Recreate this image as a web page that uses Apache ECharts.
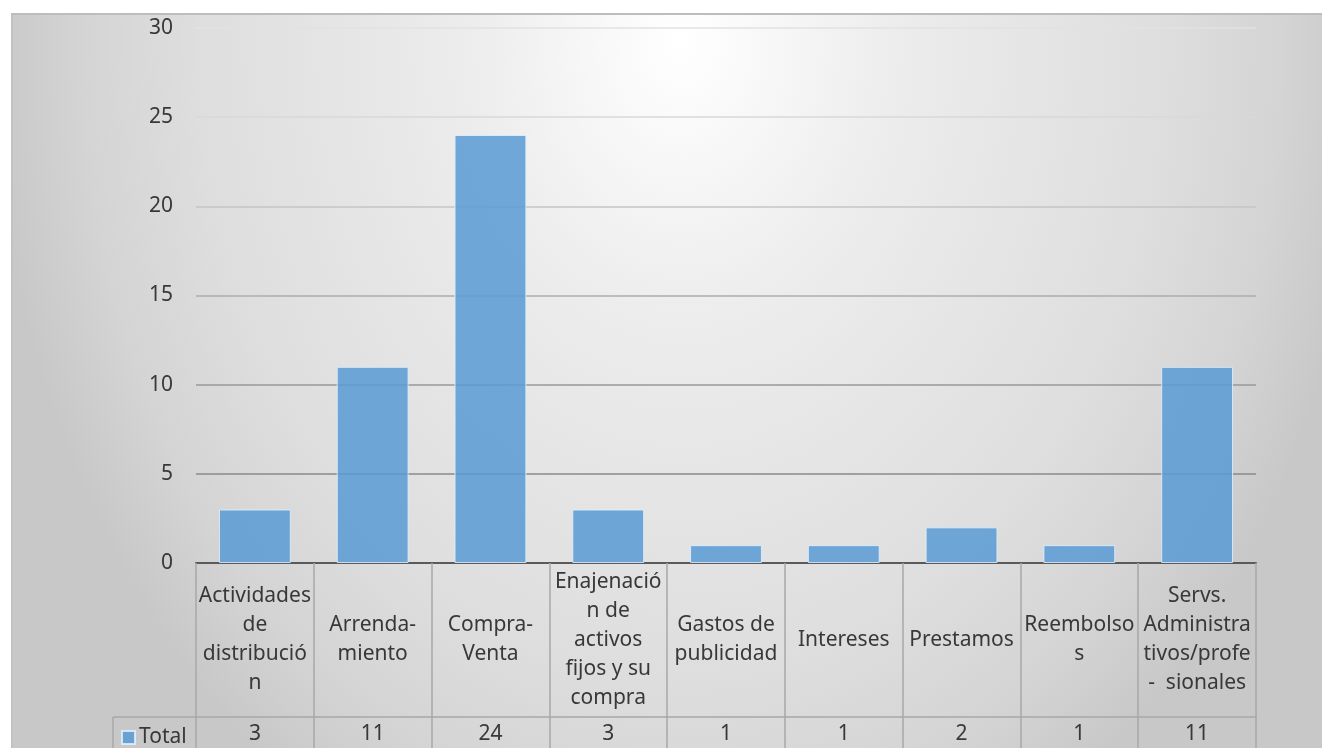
<!DOCTYPE html>
<html>
<head>
<meta charset="utf-8">
<script src="https://cdn.jsdelivr.net/npm/echarts@6/dist/echarts.min.js"></script>
<style>
  html, body { margin: 0; padding: 0; background: #ffffff; }
  body { width: 1322px; height: 748px; position: relative; overflow: hidden; }
  #frame {
    position: absolute; left: 11px; top: 13px; width: 1311px; height: 735px;
    box-sizing: border-box;
    border-top: 2px solid #bdbdbd; border-left: 2px solid #c2c2c2;
    background: radial-gradient(ellipse 690px 900px at 669px 27px,
      #ffffff 0%, #f8f8f8 12%, #ededed 30%, #e7e7e7 45%, #dedede 70%, #d4d4d4 87%, #c8c8c8 100%);
  }
  #chart { position: absolute; left: 0; top: 0; width: 1322px; height: 748px; }
</style>
</head>
<body>
<div id="frame"></div>
<div id="chart"></div>
<script>
// Category names as they wrap inside the data-table cells
const categories = [
  'Actividades\nde\ndistribució\nn',
  'Arrenda-\nmiento',
  'Compra-\nVenta',
  'Enajenació\nn de\nactivos\nfijos y su\ncompra',
  'Gastos de\npublicidad',
  'Intereses',
  'Prestamos',
  'Reembolso\ns',
  'Servs.\nAdministra\ntivos/profe\n-  sionales'
];
const seriesName = 'Total';
const totals = [3, 11, 24, 3, 1, 1, 2, 1, 11];
const yTicks = { min: 0, max: 30, step: 5 };

const textColor = '#383838';
const fontFamily = '"Noto Sans", "Open Sans", sans-serif';
const fontSize = 21;
const tableLine = '#a8a8a8';

const chart = echarts.init(document.getElementById('chart'), null, { renderer: 'canvas' });

chart.setOption({
  backgroundColor: 'transparent',
  animation: false,
  textStyle: { fontFamily: fontFamily },
  grid: { left: 196, right: 66, top: 28, bottom: 185, containLabel: false },
  legend: {
    data: [seriesName],
    left: 121, top: 727, padding: 0,
    icon: 'rect', itemWidth: 13, itemHeight: 13, itemGap: 6,
    textStyle: { color: textColor, fontSize: fontSize, fontFamily: fontFamily, padding: [0, 0, 0, -1] }
  },
  xAxis: [
    {
      type: 'category',
      data: categories,
      position: 'bottom',
      axisLine: { show: true, lineStyle: { color: '#5a5a5a', width: 2 } },
      axisTick: { show: true, interval: 0, length: 185, lineStyle: { color: tableLine, width: 1.5 } },
      axisLabel: {
        interval: 0, color: textColor, fontSize: fontSize, lineHeight: 29,
        fontFamily: fontFamily, margin: 77, verticalAlign: 'middle', align: 'center'
      },
      splitLine: { show: false }
    },
    {
      type: 'category',
      data: totals.map(String),
      position: 'bottom',
      offset: 154,
      axisLine: { show: true, lineStyle: { color: tableLine, width: 1.5 } },
      axisTick: { show: false },
      axisLabel: {
        interval: 0, color: textColor, fontSize: fontSize,
        fontFamily: fontFamily, margin: 17, verticalAlign: 'middle'
      },
      splitLine: { show: false }
    }
  ],
  yAxis: {
    type: 'value',
    min: yTicks.min, max: yTicks.max, interval: yTicks.step,
    axisLine: { show: false },
    axisTick: { show: false },
    axisLabel: { color: textColor, fontSize: fontSize, fontFamily: fontFamily, margin: 23 },
    splitLine: {
      show: true,
      lineStyle: {
        width: 1.5,
        color: ['#808080', '#8a8a8a', '#999999', '#acacac', '#c4c4c4', '#d8d8d8', '#e2e2e2']
      }
    }
  },
  series: [{
    name: seriesName,
    type: 'bar',
    xAxisIndex: 0,
    data: totals,
    barCategoryGap: '39%',
    itemStyle: {
      color: 'rgba(91, 155, 213, 0.86)',
      borderColor: 'rgba(225, 238, 250, 0.85)',
      borderWidth: 1
    },
    z: 3
  }],
  graphic: [
    { type: 'line', shape: { x1: 113, y1: 717, x2: 196, y2: 717 }, style: { stroke: tableLine, lineWidth: 1.5 }, silent: true },
    { type: 'line', shape: { x1: 113, y1: 717, x2: 113, y2: 748 }, style: { stroke: tableLine, lineWidth: 1.5 }, silent: true }
  ]
});
</script>
</body>
</html>
